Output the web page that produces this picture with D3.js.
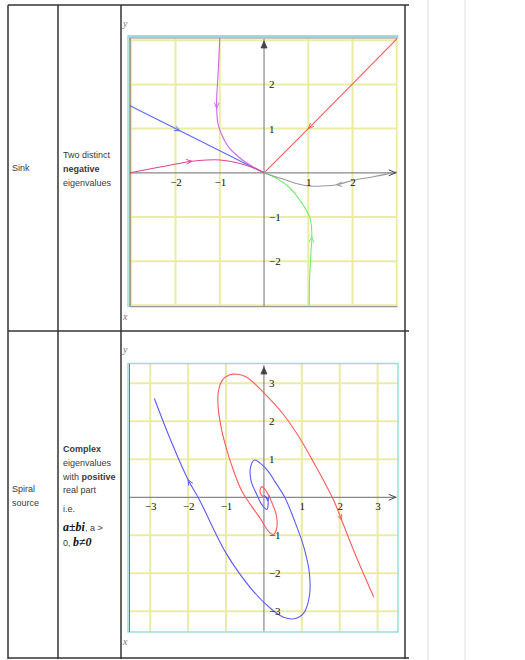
<!DOCTYPE html>
<html>
<head>
<meta charset="utf-8">
<script src="https://cdn.jsdelivr.net/npm/d3@7"></script>
<style>
  body { margin: 0; background: #fff; }
  svg { display: block; }
  .cell { font-family: "Liberation Sans", Arial, sans-serif; font-size: 9px; fill: #3a3a3a; }
  .tick text { font-family: "Liberation Serif", "Times New Roman", serif; font-size: 11px; fill: #111; }
  .axlab { font-family: "Liberation Serif", serif; font-style: italic; font-size: 10px; fill: #777; }
</style>
</head>
<body>
<script>
// ---- sink: two distinct negative eigenvalues ----
const sinkTicksX = [-2, -1, 1, 2];
const sinkTicksY = [2, 1, -1, -2];
const sinkGrid = [-3, -2, -1, 1, 2, 3];
const sinkRed = [[3.02, 3.05], [1, 1], [0, 0]];
const sinkBlue = [[-3.04, 1.52], [0, 0]];
const sinkViolet = [[-1.0, 3.05], [-1.02, 2.6], [-1.04, 2.2], [-1.07, 1.7], [-1.07, 1.46], [-1.04, 1.1],
  [-0.95, 0.85], [-0.8, 0.58], [-0.6, 0.38], [-0.39, 0.22], [-0.15, 0.08], [0, 0]];
const sinkPink = [[-3.02, 0], [-2.35, 0.13], [-1.63, 0.26], [-1.3, 0.29], [-0.99, 0.29],
  [-0.54, 0.21], [-0.16, 0.08], [0, 0]];
const sinkGreen = [[1.02, -3.03], [1.03, -2.4], [1.06, -1.8], [1.08, -1.45], [1.04, -1.03],
  [0.81, -0.62], [0.59, -0.35], [0.29, -0.13], [0, 0]];
const sinkGray = [[3.0, 0.02], [2.47, -0.09], [2.02, -0.17], [1.64, -0.27], [1.3, -0.3],
  [1.04, -0.3], [0.75, -0.25], [0.51, -0.17], [0.14, -0.05], [0, 0]];

// ---- spiral source ----
const srcTicksX = [-3, -2, -1, 1, 2, 3];
const srcTicksY = [3, 2, 1, -1, -2, -3];
const srcGrid = [-3, -2, -1, 1, 2, 3];
const srcRed = [[0, 0], [-0.08, 0.08], [-0.1, 0.2], [-0.05, 0.28], [0.07, 0.15], [0.2, -0.12],
  [0.31, -0.4], [0.35, -0.65], [0.32, -0.88], [0.25, -0.98], [0.15, -0.93], [0.02, -0.75],
  [-0.1, -0.55], [-0.35, -0.2], [-0.6, 0.2], [-0.8, 0.7], [-0.98, 1.25], [-1.13, 1.85],
  [-1.21, 2.4], [-1.2, 2.8], [-1.1, 3.08], [-0.92, 3.22], [-0.7, 3.24], [-0.46, 3.17],
  [0, 2.75], [0.5, 2.2], [0.95, 1.55], [1.35, 0.85], [1.65, 0.3], [1.85, -0.1], [2.05, -0.6],
  [2.45, -1.6], [2.9, -2.63]];
const srcBlue = [[0, 0.05], [0.1, -0.05], [0.11, -0.2], [0.08, -0.32], [-0.05, -0.2], [-0.2, 0.1],
  [-0.33, 0.4], [-0.36, 0.75], [-0.25, 0.98], [-0.1, 0.9], [0.1, 0.7], [0.3, 0.4], [0.55, 0.0],
  [0.8, -0.6], [1.05, -1.3], [1.2, -2.0], [1.2, -2.6], [1.05, -3.05], [0.8, -3.2], [0.5, -3.15],
  [0.2, -2.95], [-0.3, -2.45], [-1.0, -1.47], [-1.7, -0.07], [-2.0, 0.46], [-2.5, 1.6], [-2.89, 2.6]];

const W = 525, H = 660;
const svg = d3.select("body").append("svg").attr("width", W).attr("height", H);

// background page guides
[428, 465].forEach(x => svg.append("line").attr("x1", x).attr("x2", x).attr("y1", 0).attr("y2", H)
  .attr("stroke", "#dcdcdc").attr("stroke-width", 1));

// table
const tbl = svg.append("g").attr("stroke", "#333").attr("stroke-width", 1.5);
[8, 58, 121, 405].forEach(x => tbl.append("line").attr("x1", x).attr("x2", x).attr("y1", 5).attr("y2", 659));
[5, 331, 658].forEach(y => tbl.append("line").attr("x1", 8).attr("x2", 409).attr("y1", y).attr("y2", y));

function textLines(x, lines) {
  lines.forEach(([y, parts]) => {
    const t = svg.append("text").attr("class", "cell").attr("x", x).attr("y", y);
    parts.forEach(p => {
      const s = t.append("tspan").text(p.t);
      if (p.b) s.attr("font-weight", "bold");
      if (p.m) s.attr("font-family", "Liberation Serif, serif").attr("font-style", "italic")
        .attr("font-weight", "bold").attr("font-size", 12).attr("fill", "#111");
    });
  });
}
textLines(12, [[171, [{ t: "Sink" }]]]);
textLines(63, [[158, [{ t: "Two distinct" }]], [172, [{ t: "negative", b: true }]], [186, [{ t: "eigenvalues" }]]]);
textLines(12, [[492, [{ t: "Spiral" }]], [506, [{ t: "source" }]]]);
textLines(63, [
  [452, [{ t: "Complex", b: true }]],
  [466, [{ t: "eigenvalues" }]],
  [480, [{ t: "with " }, { t: "positive", b: true }]],
  [493, [{ t: "real part" }]],
  [512, [{ t: "i.e." }]],
  [531, [{ t: " a±bi", m: true }, { t: ", a >" }]],
  [546, [{ t: "0,  " }, { t: "b≠0", m: true }]]
]);

function arrowHead(g, x, y, pts, p, color) {
  // direction from the nearest segment of the curve
  let best = 0, bd = Infinity;
  for (let i = 0; i < pts.length - 1; i++) {
    const mx = (x(pts[i][0]) + x(pts[i + 1][0])) / 2, my = (y(pts[i][1]) + y(pts[i + 1][1])) / 2;
    const d = (mx - x(p[0])) ** 2 + (my - y(p[1])) ** 2;
    if (d < bd) { bd = d; best = i; }
  }
  const a = Math.atan2(y(pts[best + 1][1]) - y(pts[best][1]), x(pts[best + 1][0]) - x(pts[best][0]));
  const px = x(p[0]), py = y(p[1]), L = 6, s = 0.4;
  g.append("path")
    .attr("d", `M${px - L * Math.cos(a - s)},${py - L * Math.sin(a - s)}L${px},${py}L${px - L * Math.cos(a + s)},${py - L * Math.sin(a + s)}`)
    .attr("fill", "none").attr("stroke", color).attr("stroke-width", 1);
}

function portrait(o) {
  const x = d3.scaleLinear().domain(o.xd).range([o.left, o.right]);
  const y = d3.scaleLinear().domain(o.yd).range([o.bottom, o.top]);
  const g = svg.append("g");
  const clipId = "clip" + o.id;
  svg.append("clipPath").attr("id", clipId).append("rect")
    .attr("x", o.left).attr("y", o.top).attr("width", o.right - o.left).attr("height", o.bottom - o.top);
  const inner = g.append("g").attr("clip-path", `url(#${clipId})`);

  inner.append("g").selectAll("line").data(o.grid).join("line")
    .attr("x1", d => x(d)).attr("x2", d => x(d)).attr("y1", o.top).attr("y2", o.bottom)
    .attr("stroke", "#ebeba4").attr("stroke-width", 2);
  inner.append("g").selectAll("line").data(o.grid).join("line")
    .attr("y1", d => y(d)).attr("y2", d => y(d)).attr("x1", o.left).attr("x2", o.right)
    .attr("stroke", "#ebeba4").attr("stroke-width", 2);

  // axes lines with arrows
  inner.append("line").attr("x1", o.left).attr("x2", o.right - 1).attr("y1", y(0)).attr("y2", y(0))
    .attr("stroke", "#888").attr("stroke-width", 1.2);
  inner.append("line").attr("x1", x(0)).attr("x2", x(0)).attr("y1", o.bottom).attr("y2", o.top + 1)
    .attr("stroke", "#888").attr("stroke-width", 1.2);
  const ax = o.right - 2, ay = o.top + 3;
  g.append("path").attr("d", `M${ax - 7},${y(0) - 3}L${ax},${y(0)}L${ax - 7},${y(0) + 3}`)
    .attr("fill", "none").attr("stroke", "#444").attr("stroke-width", 1);
  g.append("path").attr("d", `M${x(0) - 3},${ay + 7}L${x(0)},${ay}L${x(0) + 3},${ay + 7}Z`)
    .attr("fill", "#444").attr("stroke", "#444").attr("stroke-width", 0.8);

  // tick labels via d3 axes
  g.append("g").attr("transform", `translate(0,${y(0)})`)
    .call(d3.axisBottom(x).tickValues(o.tx).tickSize(0).tickPadding(5).tickFormat(d3.format("d")))
    .call(s => s.select(".domain").remove());
  g.append("g").attr("transform", `translate(${x(0)},0)`)
    .call(d3.axisRight(y).tickValues(o.ty).tickSize(0).tickPadding(5).tickFormat(d3.format("d")))
    .call(s => s.select(".domain").remove());

  const line = d3.line().x(d => x(d[0])).y(d => y(d[1])).curve(d3.curveCatmullRom.alpha(0.5));
  o.curves.forEach(c => {
    inner.append("path").attr("d", line(c.pts)).attr("fill", "none")
      .attr("stroke", c.color).attr("stroke-width", 1.1);
    (c.arrows || []).forEach(p => arrowHead(inner, x, y, c.pts, p, c.color));
  });

  o.frame(g);
  svg.append("text").attr("class", "axlab").attr("x", 123).attr("y", o.top - 11).text("y");
  svg.append("text").attr("class", "axlab").attr("x", 123).attr("y", o.bottom + 13).text("x");
}

portrait({
  id: 1, left: 129.5, right: 397.7, top: 38, bottom: 306.7,
  xd: [-3.04, 3.02], yd: [-3.03, 3.05], grid: sinkGrid, tx: sinkTicksX, ty: sinkTicksY,
  curves: [
    { pts: sinkRed, color: "#ff5a5a", arrows: [[1, 1]] },
    { pts: sinkBlue, color: "#5a6aff", arrows: [[-1.9, 0.95]] },
    { pts: sinkViolet, color: "#cc66ee", arrows: [[-1.07, 1.46]] },
    { pts: sinkPink, color: "#e0459a", arrows: [[-1.63, 0.26]] },
    { pts: sinkGreen, color: "#6ef06e", arrows: [[1.08, -1.45]] },
    { pts: sinkGray, color: "#999", arrows: [[1.64, -0.27]] }
  ],
  frame: g => {
    g.append("line").attr("x1", 128).attr("x2", 398.5).attr("y1", 36.5).attr("y2", 36.5).attr("stroke", "#99dcdc").attr("stroke-width", 3);
    g.append("line").attr("x1", 129.5).attr("x2", 398).attr("y1", 38.2).attr("y2", 38.2).attr("stroke", "#999").attr("stroke-width", 0.8);
    g.append("line").attr("x1", 128).attr("x2", 128).attr("y1", 35).attr("y2", 307).attr("stroke", "#99dcdc").attr("stroke-width", 1.5);
    g.append("line").attr("x1", 130).attr("x2", 130).attr("y1", 38).attr("y2", 307).attr("stroke", "#555").attr("stroke-width", 1);
    g.append("line").attr("x1", 130).attr("x2", 398).attr("y1", 306.7).attr("y2", 306.7).attr("stroke", "#999").attr("stroke-width", 1.2);
    g.append("line").attr("x1", 397.8).attr("x2", 397.8).attr("y1", 38).attr("y2", 307).attr("stroke", "#f2f2d0").attr("stroke-width", 1);
  }
});

portrait({
  id: 2, left: 129, right: 397.7, top: 364, bottom: 631.7,
  xd: [-3.56, 3.53], yd: [-3.54, 3.51], grid: srcGrid, tx: srcTicksX, ty: srcTicksY,
  curves: [
    { pts: srcRed, color: "#ff5a5a", arrows: [[2.05, -0.6]] },
    { pts: srcBlue, color: "#5a5aff", arrows: [[-2.0, 0.46], [0.1, -0.1]] }
  ],
  frame: g => {
    g.append("rect").attr("x", 128).attr("y", 363.5).attr("width", 270).attr("height", 268.5)
      .attr("fill", "none").attr("stroke", "#99dcdc").attr("stroke-width", 1.5);
    g.append("line").attr("x1", 129.5).attr("x2", 129.5).attr("y1", 364).attr("y2", 632).attr("stroke", "#555").attr("stroke-width", 0.8);
  }
});
</script>
</body>
</html>
